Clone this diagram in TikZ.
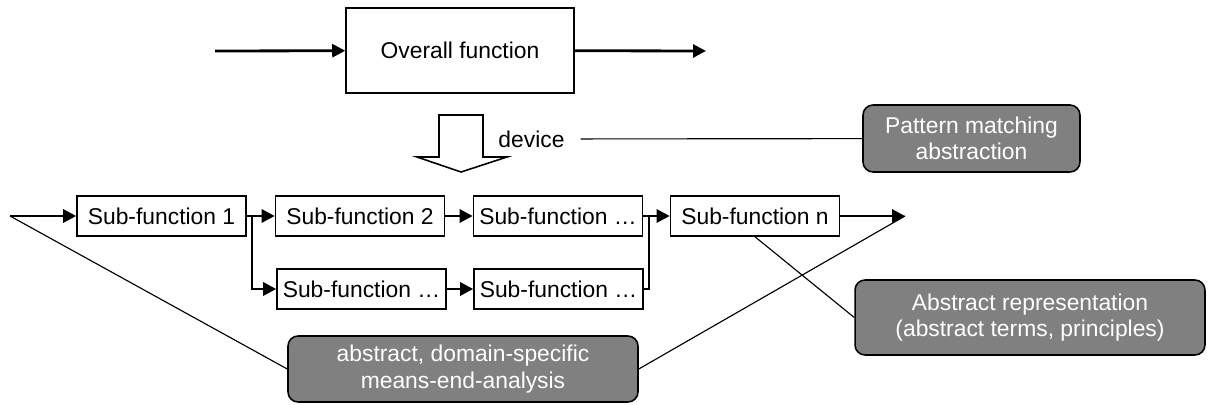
\documentclass[tikz,border=0pt]{standalone}
\usepackage{fontspec}
\setmainfont{Liberation Sans}
\usepackage{tikz}
\usetikzlibrary{arrows.meta}

\begin{document}
\begin{tikzpicture}[x=0.02cm, y=-0.02cm,
  every node/.style={font=\fontsize{13pt}{15pt}\selectfont},
  sub/.style={draw, line width=0.9pt, minimum width=3.38cm, minimum height=0.8cm, inner sep=1pt},
  note/.style={draw, line width=0.9pt, fill=black!50, text=white, rounded corners=0.2cm, align=center},
  flow/.style={line width=1.6pt, -{Triangle[length=0.26cm, width=0.26cm]}},
  link/.style={line width=0.65pt}]
  \useasboundingbox (0,0) rectangle (1210,405);

  % overall function
  \node[draw, line width=0.9pt, minimum width=4.56cm, minimum height=1.7cm] (overall) at (460,50.5) {Overall function};
  \coordinate (oin) at (215,51);
  \coordinate (oout) at (706,51);
  \draw[flow] (oin) -- (overall);
  \draw[flow] (overall) -- (oout);

  % hollow arrow
  \draw[line width=0.9pt, fill=white] (439,115) -- (483,115) -- (483,157) -- (507,157) -- (461,172) -- (417,157) -- (439,157) -- cycle;
  \node[inner sep=9pt] (device) at (531.5,139) {device};

  % sub-functions
  \node[sub] (f1) at (161.5,216) {Sub-function 1};
  \node[sub] (f2) at (360,216) {Sub-function 2};
  \node[sub] (f3) at (558,216) {Sub-function …};
  \node[sub] (fn) at (755,216) {Sub-function n};
  \node[sub] (f4) at (361.5,289) {Sub-function …};
  \node[sub] (f5) at (558.5,289) {Sub-function …};

  \coordinate (src) at (10,216);
  \coordinate (sink) at (905,216);
  \coordinate (j1) at (252,216);
  \coordinate (j2) at (649,216);

  \draw[flow] (src) -- (f1);
  \draw[flow] (f1) -- (j1) |- (f4);
  \draw[flow] (j1) -- (f2);
  \draw[flow] (f2) -- (f3);
  \draw[flow] (f4) -- (f5);
  \draw[line width=1.6pt] (f3) -- (j2);
  \draw[flow] (f5) -| (j2) -- (fn);
  \draw[flow] (fn) -- (sink);

  % notes
  \node[note, minimum width=4.34cm, minimum height=1.34cm] (pattern) at (971.5,138.5) {Pattern matching\\abstraction};
  \node[note, minimum width=7cm, minimum height=1.5cm] (absrep) at (1030,317.5) {Abstract representation\\(abstract terms, principles)};
  \node[note, minimum width=7cm, minimum height=1.32cm] (analysis) at (463,369) {abstract, domain-specific\\means-end-analysis};

  \draw[link] (device) -- (pattern);
  \draw[link] (fn.south) -- (absrep.west);
  \draw[link] (src) -- (analysis.west);
  \draw[link] (sink) -- (analysis.east);
\end{tikzpicture}
\end{document}
